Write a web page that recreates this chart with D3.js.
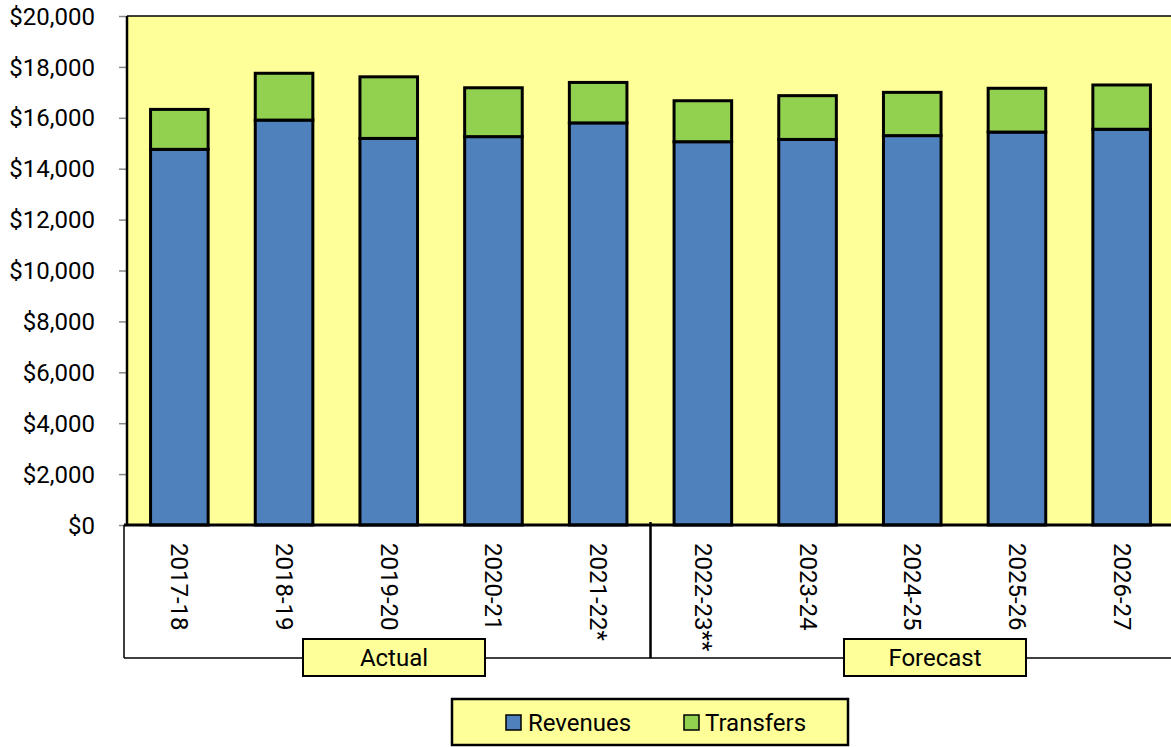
<!DOCTYPE html>
<html>
<head>
<meta charset="utf-8">
<script src="https://cdn.jsdelivr.net/npm/d3@7"></script>
<style>
  html, body { margin: 0; padding: 0; background: #ffffff; overflow: hidden; }
  svg { display: block; }
  text { font-family: Roboto, "Open Sans", sans-serif; fill: #000; }
</style>
</head>
<body>
<svg id="chart" width="1171" height="747"></svg>
<script>
const categories = ["2017-18","2018-19","2019-20","2020-21","2021-22*","2022-23**","2023-24","2024-25","2025-26","2026-27"];
const revenues  = [14760, 15910, 15190, 15260, 15800, 15060, 15150, 15300, 15440, 15550];
const transfers = [1570, 1840, 2420, 1920, 1590, 1610, 1720, 1700, 1720, 1740];
const seriesNames = ["Revenues", "Transfers"];
const seriesColors = ["#4F81BD", "#92D050"];
const yTicks = [0, 2000, 4000, 6000, 8000, 10000, 12000, 14000, 16000, 18000, 20000];
const groupLabels = ["Actual", "Forecast"];

const svg = d3.select("#chart");
const W = 1171;
const plot = { left: 127, right: 1174, top: 16, bottom: 525 };

const x = d3.scaleBand().domain(categories).range([plot.left, plot.right])
  .paddingInner(0.45).paddingOuter(0.225);
const y = d3.scaleLinear().domain([0, 20000]).range([plot.bottom, plot.top]);

// plot background
svg.append("rect").attr("x", plot.left).attr("y", plot.top)
  .attr("width", W - plot.left).attr("height", plot.bottom - plot.top)
  .attr("fill", "#FFFF99");

// stacked data
const table = categories.map((c, i) => ({ cat: c, Revenues: revenues[i], Transfers: transfers[i] }));
const stack = d3.stack().keys(seriesNames)(table);

svg.append("g").selectAll("g").data(stack).join("g")
  .attr("fill", (d, i) => seriesColors[i])
  .selectAll("rect").data(d => d).join("rect")
  .attr("x", d => x(d.data.cat))
  .attr("width", x.bandwidth())
  .attr("y", d => y(d[1]))
  .attr("height", d => y(d[0]) - y(d[1]))
  .attr("stroke", "#000").attr("stroke-width", 3);

// y axis
const yAxis = d3.axisLeft(y).tickValues(yTicks)
  .tickFormat(d => "$" + d3.format(",")(d)).tickSize(8).tickPadding(24);
const gy = svg.append("g").attr("transform", `translate(${plot.left},0)`).call(yAxis);
gy.select(".domain").remove();
gy.selectAll(".tick line").attr("stroke", "#888").attr("stroke-width", 1.5);
gy.selectAll(".tick text").attr("font-size", 24).attr("font-family", "Roboto, sans-serif")
  .attr("dy", "0.34em").attr("fill", "#000");

// plot border lines (left + top)
svg.append("line").attr("x1", plot.left).attr("x2", plot.left)
  .attr("y1", plot.top).attr("y2", plot.bottom).attr("stroke", "#000").attr("stroke-width", 2.5);
svg.append("line").attr("x1", plot.left).attr("x2", W)
  .attr("y1", plot.top).attr("y2", plot.top).attr("stroke", "#000").attr("stroke-width", 1.5);

// x axis area
const labBottom = 658;
svg.append("line").attr("x1", 124).attr("x2", W).attr("y1", plot.bottom).attr("y2", plot.bottom)
  .attr("stroke", "#000").attr("stroke-width", 3);
svg.append("line").attr("x1", 124).attr("x2", 124).attr("y1", plot.bottom).attr("y2", labBottom)
  .attr("stroke", "#000").attr("stroke-width", 1.5);
svg.append("line").attr("x1", 124).attr("x2", W).attr("y1", labBottom).attr("y2", labBottom)
  .attr("stroke", "#000").attr("stroke-width", 1.5);
const divX = x(categories[4]) + x.bandwidth() + x.step() * x.paddingInner() / 2;
svg.append("line").attr("x1", divX).attr("x2", divX).attr("y1", 522).attr("y2", labBottom)
  .attr("stroke", "#000").attr("stroke-width", 2.5);

// x tick labels (rotated)
svg.append("g").selectAll("text").data(categories).join("text")
  .attr("transform", d => `translate(${x(d) + x.bandwidth() / 2},543) rotate(90)`)
  .attr("text-anchor", "start").attr("dominant-baseline", "central")
  .attr("font-size", 24).text(d => d);

// group label boxes
const boxes = [{ x0: 303, x1: 485, label: groupLabels[0] }, { x0: 844, x1: 1026, label: groupLabels[1] }];
const gb = svg.append("g").selectAll("g").data(boxes).join("g");
gb.append("rect").attr("x", d => d.x0).attr("y", 639).attr("width", d => d.x1 - d.x0).attr("height", 37)
  .attr("fill", "#FFFF99").attr("stroke", "#000").attr("stroke-width", 2);
gb.append("text").attr("x", d => (d.x0 + d.x1) / 2).attr("y", 666)
  .attr("text-anchor", "middle").attr("font-size", 24).text(d => d.label);

// legend
const lg = svg.append("g");
lg.append("rect").attr("x", 452).attr("y", 699).attr("width", 396).attr("height", 46)
  .attr("fill", "#FFFF99").attr("stroke", "#000").attr("stroke-width", 2.5);
const legendItems = [{ sx: 506, tx: 528 }, { sx: 684, tx: 705 }];
seriesNames.forEach((name, i) => {
  lg.append("rect").attr("x", legendItems[i].sx).attr("y", 715).attr("width", 15).attr("height", 15)
    .attr("fill", seriesColors[i]).attr("stroke", "#000").attr("stroke-width", 1.5);
  lg.append("text").attr("x", legendItems[i].tx).attr("y", 731).attr("font-size", 24).text(name);
});
</script>
</body>
</html>
